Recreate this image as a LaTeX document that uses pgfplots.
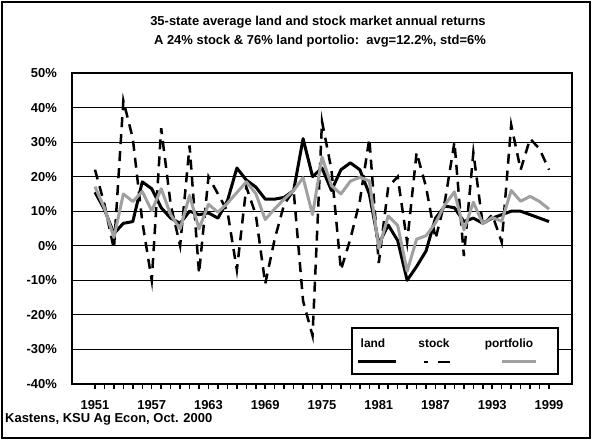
\documentclass[border=0pt]{standalone}
\usepackage{fontspec}
\setmainfont{Liberation Sans}
\usepackage{pgfplots}
\pgfplotsset{compat=1.18}
\usepackage{pgfplotstable}
\definecolor{portgray}{RGB}{160,160,160}

\pgfplotstableread{
year stock land port
1951 22 15.5 17.1
1952 12 10.5 10.9
1953 -1 3.5 2.4
1954 42 6.5 15.0
1955 31 7 12.8
1956 7 18.5 15.7
1957 -10 16.5 10.1
1958 34 11 16.5
1959 12 8 9.0
1960 0 6.5 4.9
1961 29 10 14.6
1962 -8 9 4.9
1963 20 9.5 12.0
1964 15 8 9.7
1965 10 13 12.3
1966 -7 22.5 15.4
1967 17 19 18.5
1968 9 17 15.1
1969 -11 13.5 7.6
1970 2 13.5 10.7
1971 12 14 13.5
1972 16 16 16.0
1973 -16 31 19.7
1974 -26 20 9.0
1975 36 22.5 25.7
1976 22 16 17.4
1977 -7 22 15.0
1978 2 24 18.7
1979 13 22 19.8
1980 31 15 18.8
1981 -5 0.5 -0.8
1982 17 6 8.6
1983 20 1.5 5.9
1984 1 -10 -7.4
1985 27 -6 1.9
1986 17 -1.5 2.9
1987 2 8 6.6
1988 13 11.5 11.9
1989 30 11 15.6
1990 -3 7 4.6
1991 27 8 12.6
1992 6 6.5 6.4
1993 9 8 8.2
1994 1 9 7.1
1995 35 10 16.0
1996 22 10 12.9
1997 31 9 14.3
1998 28 8 12.8
1999 22 7 10.6
}\datatable

\begin{document}
\begin{tikzpicture}[x=1bp,y=1bp]
\useasboundingbox (0,0) rectangle (592,440);
\draw[line width=1.5bp] (2,2) rectangle (590,438);
\begin{axis}[
  at={(72bp,56bp)}, anchor=south west,
  width=500bp, height=311bp, scale only axis,
  xmin=1948.57, xmax=2001.43, ymin=-40, ymax=50,
  ytick={-40,-30,...,50},
  yticklabels={-40\%,-30\%,-20\%,-10\%,0\%,10\%,20\%,30\%,40\%,50\%},
  xtick={1951,1957,...,1999},
  xticklabels={1951,1957,1963,1969,1975,1981,1987,1993,1999},
  minor xtick={1951,...,1999},
  ymajorgrids, grid style={black, line width=1.2bp},
  axis line style={black, line width=1.2bp},
  tick align=outside, xtick pos=bottom, ytick pos=left,
  major tick length=5bp, minor tick length=5bp,
  tick style={black, line width=1.5bp},
  minor tick style={black, line width=1.5bp},
  ytick style={draw=none},
  tick label style={font=\fontsize{13}{15}\selectfont\bfseries},
  yticklabel style={inner sep=0pt, xshift=-10bp},
  xticklabel style={inner sep=0pt, yshift=-11bp},
  /pgf/number format/assume math mode=true,
  clip=false,
]
\addplot[black, line width=3bp, line join=round, mark=none] table[x=year,y=land]{\datatable};
\addplot[black, line width=2.5bp, dash pattern=on 10bp off 7bp, mark=none] table[x=year,y=stock]{\datatable};
\addplot[portgray, line width=3bp, line join=round, mark=none] table[x=year,y=port]{\datatable};
\draw[black, line width=2.2bp] (rel axis cs:0,1) -- (rel axis cs:0,0) -- (rel axis cs:1,0);
\end{axis}
\draw[line width=1.5bp, fill=white] (352,66) rectangle (558,112);
\node[anchor=base, font=\fontsize{12}{14}\selectfont\bfseries] at (373,92) {land};
\node[anchor=base, font=\fontsize{12}{14}\selectfont\bfseries] at (434,92) {stock};
\node[anchor=base, font=\fontsize{12}{14}\selectfont\bfseries] at (509,92) {portfolio};
\draw[black, line width=3bp] (358,78) -- (396,78);
\draw[black, line width=2.5bp, dash pattern=on 4bp off 10bp on 12bp off 10bp] (424,78) -- (450,78);
\draw[portgray, line width=3bp] (502,78) -- (536,78);
\node[font=\fontsize{13}{15}\selectfont\bfseries] at (318,418) {35-state average land and stock market annual returns};
\node[font=\fontsize{13}{15}\selectfont\bfseries] at (320,399) {A 24\% stock \& 76\% land portolio:\ \ avg=12.2\%, std=6\%};
\node[anchor=west, inner sep=0pt, font=\fontsize{13}{15}\selectfont\bfseries] at (5,21) {Kastens, KSU Ag Econ, Oct. 2000};
\end{tikzpicture}
\end{document}
